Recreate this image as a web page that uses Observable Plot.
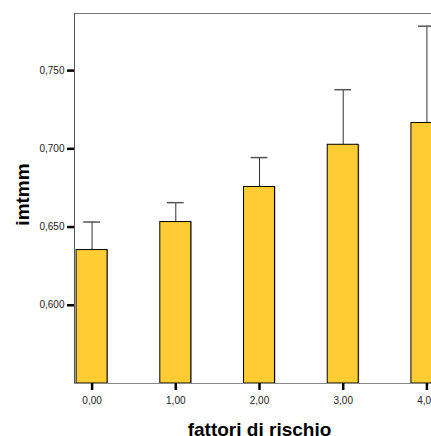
<!DOCTYPE html>
<html>
<head>
<meta charset="utf-8">
<script src="https://cdn.jsdelivr.net/npm/d3@7"></script>
<script src="https://cdn.jsdelivr.net/npm/@observablehq/plot@0.6"></script>
<style>
  html, body { margin: 0; padding: 0; background: #fff; overflow: hidden; width: 431px; height: 436px; }
  #chart { width: 460px; }
  #chart svg { display: block; max-width: none !important; width: 460px !important; height: 436px !important; }
</style>
</head>
<body>
<div id="chart"></div>
<script>
const categories = [0, 1, 2, 3, 4];
const categoryLabels = ["0,00", "1,00", "2,00", "3,00", "4,00"];
const means = [0.6353, 0.6532, 0.6756, 0.7026, 0.7165];
const upperErrors = [0.6532, 0.6656, 0.6944, 0.7378, 0.7784];
const yTicks = [0.6, 0.65, 0.7, 0.75];
const yTickLabels = ["0,600", "0,650", "0,700", "0,750"];

const data = categories.map((c, i) => ({ c, mean: means[i], up: upperErrors[i] }));
const halfBar = 0.185;
const halfCap = 0.1;
const yMin = 0.55, yMax = 0.7865;

const chart = Plot.plot({
  width: 460,
  height: 436,
  marginLeft: 74,
  marginRight: 16,
  marginTop: 13,
  marginBottom: 53,
  style: { fontFamily: "Arial, 'Liberation Sans', sans-serif", background: "#fff" },
  x: { type: "linear", domain: [-0.21, 4.21], axis: null },
  y: { domain: [yMin, yMax], axis: null },
  marks: [
    Plot.ruleY([yMax], { stroke: "#777", strokeWidth: 1 }),
    Plot.ruleX(data, { x: "c", y1: "mean", y2: "up", stroke: "#333", strokeWidth: 1 }),
    Plot.ruleY(data, { y: "up", x1: d => d.c - halfCap, x2: d => d.c + halfCap, stroke: "#555", strokeWidth: 1.5 }),
    Plot.rect(data, { x1: d => d.c - halfBar, x2: d => d.c + halfBar, y1: yMin, y2: "mean", fill: "#999", dx: 1 }),
    Plot.rect(data, { x1: d => d.c - halfBar, x2: d => d.c + halfBar, y1: yMin, y2: "mean", fill: "#FFCC33", stroke: "#000", strokeWidth: 1 }),
    Plot.ruleY([yMin], { stroke: "#888", strokeWidth: 1 }),
    Plot.ruleX([-0.21], { stroke: "#555", strokeWidth: 1 }),
    Plot.axisY({ ticks: yTicks, tickFormat: d => yTickLabels[yTicks.indexOf(d)], tickSize: 7, tickPadding: 3, fontSize: 10, stroke: "#000", strokeWidth: 2.5, label: null, color: "#222" }),
    Plot.axisX({ ticks: categories, tickFormat: d => categoryLabels[categories.indexOf(d)], tickSize: 7, tickPadding: 6, fontSize: 10, stroke: "#000", strokeWidth: 2.5, label: null, color: "#222" }),
    Plot.text(["imtmm"], { frameAnchor: "left", textAnchor: "middle", dx: -52, dy: -4, rotate: -90, fontSize: 19, fontWeight: "bold", fill: "#000" }),
    Plot.text(["fattori di rischio"], { frameAnchor: "bottom", textAnchor: "middle", lineAnchor: "middle", dy: 46, fontSize: 19, fontWeight: "bold", fill: "#000" })
  ]
});
document.getElementById("chart").appendChild(chart);
</script>
</body>
</html>
